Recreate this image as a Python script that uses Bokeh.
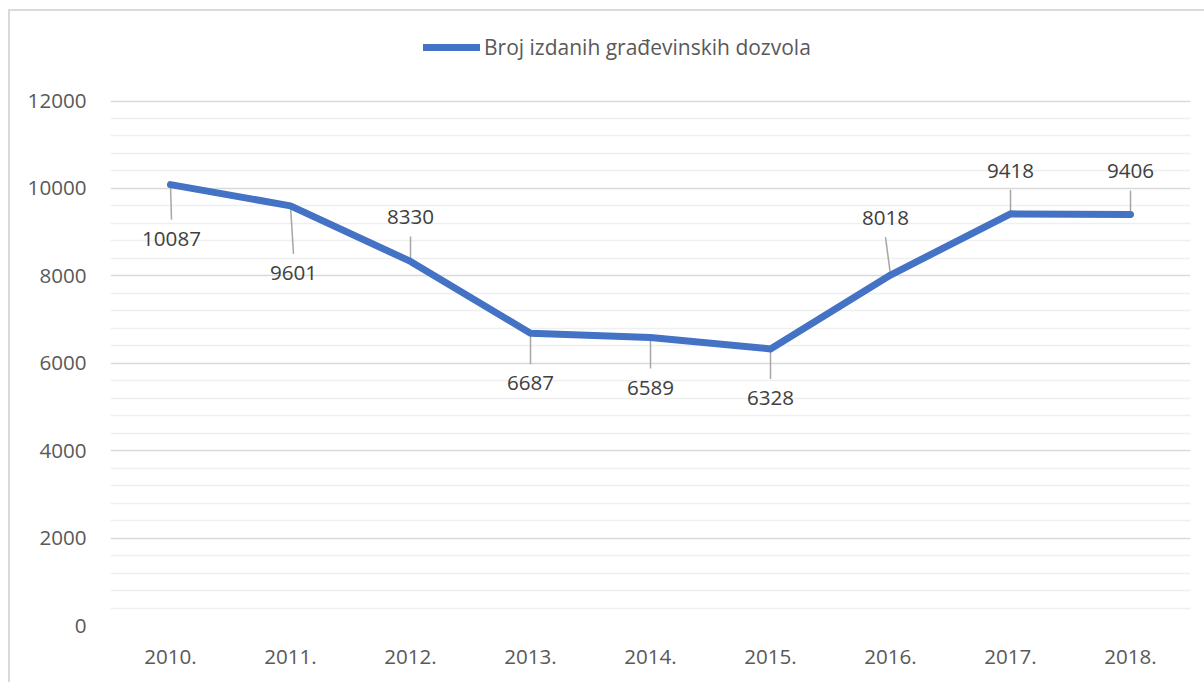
from bokeh.plotting import figure
from bokeh.models import Range1d, FixedTicker, Legend, LegendItem, ColumnDataSource
from bokeh.core.properties import value
from bokeh.embed import file_html
from bokeh.resources import INLINE

# ---- data ----
years = ["2010.", "2011.", "2012.", "2013.", "2014.", "2015.", "2016.", "2017.", "2018."]
permits = [10087, 9601, 8330, 6687, 6589, 6328, 8018, 9418, 9406]
series_name = "Broj izdanih građevinskih dozvola"
y_major = [0, 2000, 4000, 6000, 8000, 10000, 12000]
y_minor = [v for v in range(0, 12001, 400) if v % 2000 != 0]

# label placement (screen pixel offsets from each point)
label_dx = [1, 3, 0, 0, 0, 0, -5, 0, 0]
label_dy = [54, 67, -44, 50, 50, 49, -57, -43, -43]

FONT = "Open Sans"
W, H = 1204, 682
FRAME_TOP, FRAME_BOTTOM, FRAME_LEFT, FRAME_RIGHT = 20, 625, 110, 1190
AXIS_TOP_PX = 100.5          # pixel row of 12000
YTOP_VAL = 12000
frame_h = FRAME_BOTTOM - FRAME_TOP
frame_w = FRAME_RIGHT - FRAME_LEFT
ypp = YTOP_VAL / (FRAME_BOTTOM - AXIS_TOP_PX)   # value per pixel
YMAX = frame_h * ypp

xs = [i + 0.5 for i in range(len(years))]

p = figure(width=W, height=H, output_backend="svg", toolbar_location=None,
           x_range=Range1d(0, len(years)), y_range=Range1d(0, YMAX),
           min_border_left=FRAME_LEFT, min_border_right=W - FRAME_RIGHT,
           min_border_top=FRAME_TOP, min_border_bottom=H - FRAME_BOTTOM)
p.border_fill_color = None
p.background_fill_color = "white"
p.outline_line_color = None
p.styles = {
    "background": "linear-gradient(#d9d9d9,#d9d9d9) 8px 9px / 2px 100% no-repeat, "
                  "linear-gradient(#d9d9d9,#d9d9d9) 8px 9px / 100% 2px no-repeat, white"
}

# grid
p.xgrid.grid_line_color = None
p.yaxis.ticker = FixedTicker(ticks=y_major, minor_ticks=y_minor)
p.ygrid.grid_line_color = "#d9d9d9"
p.ygrid.grid_line_width = 1.5
p.ygrid.minor_grid_line_color = "#efefef"
p.ygrid.minor_grid_line_width = 1.5

# axes
for ax in (p.xaxis, p.yaxis):
    ax.axis_line_color = None
    ax.major_tick_line_color = None
    ax.minor_tick_line_color = None
    ax.major_tick_out = 0
    ax.major_tick_in = 0
    ax.minor_tick_out = 0
    ax.major_label_text_font = FONT
    ax.major_label_text_font_size = "20.6px"
    ax.major_label_text_color = "#595959"
p.yaxis.major_label_standoff = 24
p.xaxis.major_label_standoff = 24
p.xaxis.ticker = FixedTicker(ticks=xs)
p.xaxis.major_label_overrides = {x: y for x, y in zip(xs, years)}

# leader lines
xpp = 1.0 / (frame_w / len(years))
lx0, ly0, lx1, ly1 = [], [], [], []
for x, v, dx, dy in zip(xs, permits, label_dx, label_dy):
    s = 1 if dy > 0 else -1
    lx0.append(x)
    ly0.append(v)
    lx1.append(x + dx * xpp)
    ly1.append(v - (dy - s * 19) * ypp)
p.segment(lx0, ly0, lx1, ly1, line_color="#a6a6a6", line_width=1.5)

# main line
r = p.line(xs, permits, line_color="#4472C4", line_width=7, line_cap="round", line_join="round")

# data labels
src = ColumnDataSource(dict(x=xs, y=permits, t=[str(v) for v in permits], dx=label_dx, dy=label_dy))
p.text(x="x", y="y", text="t", x_offset="dx", y_offset="dy", source=src,
       text_font=value(FONT), text_font_size="20.6px", text_color="#404040",
       text_align="center", text_baseline="middle")

# legend
legend = Legend(items=[LegendItem(label=series_name, renderers=[r])],
                location=(313, 564), orientation="horizontal",
                label_text_font=FONT, label_text_font_size="21px", label_text_color="#595959",
                glyph_width=57, glyph_height=20, label_standoff=4,
                padding=0, margin=0, spacing=0,
                border_line_color=None, background_fill_color=None)
p.add_layout(legend, "center")

open("out.html", "w").write(file_html(p, INLINE))
